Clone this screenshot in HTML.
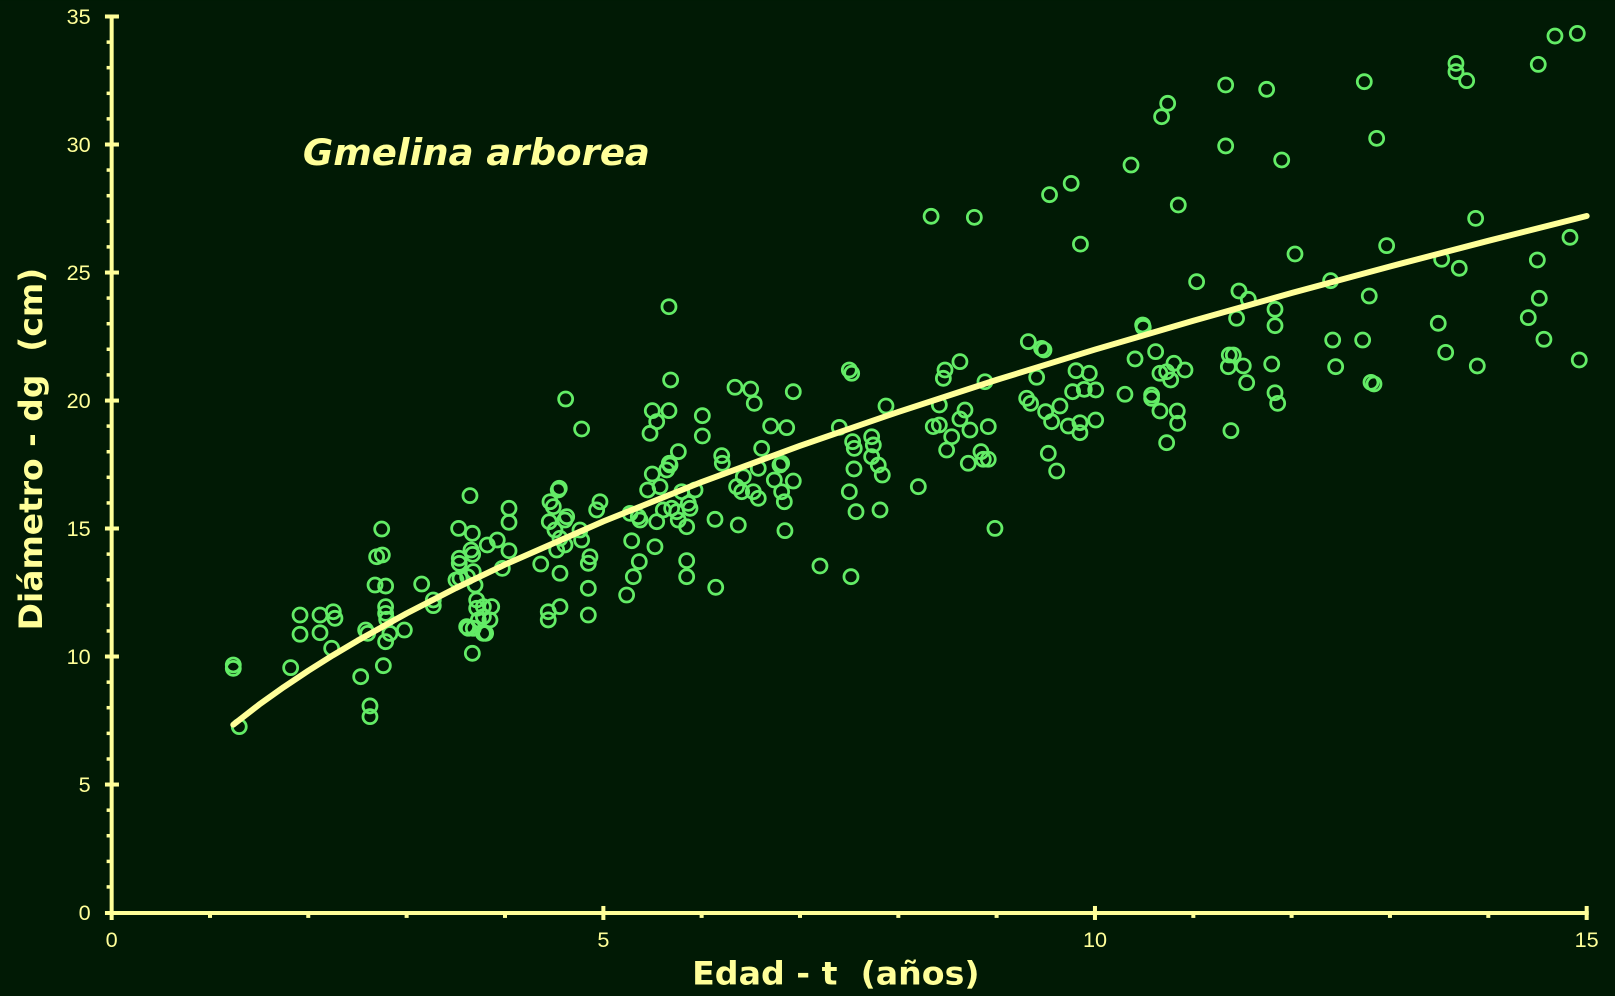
<!DOCTYPE html>
<html>
<head>
<meta charset="utf-8">
<style>
html,body{margin:0;padding:0;background:#011a05;}
svg{display:block;}
</style>
</head>
<body>
<svg width="1615" height="996" viewBox="0 0 1568 967" xmlns="http://www.w3.org/2000/svg">
<rect x="0" y="0" width="1568" height="967" fill="#011a05"/>

<!-- axes -->
<g stroke="#ffff99" stroke-linecap="butt">
  <line x1="108.4" y1="16" x2="108.4" y2="893.2" stroke-width="3.9"/>
  <line x1="101.9" y1="886.4" x2="1542.5" y2="886.4" stroke-width="3.9"/>
  <g stroke-width="3.9">
    <line x1="101.9" y1="16" x2="115.5" y2="16"/>
    <line x1="101.9" y1="140.3" x2="115.5" y2="140.3"/>
    <line x1="101.9" y1="264.6" x2="115.5" y2="264.6"/>
    <line x1="101.9" y1="388.9" x2="115.5" y2="388.9"/>
    <line x1="101.9" y1="513.1" x2="115.5" y2="513.1"/>
    <line x1="101.9" y1="637.4" x2="115.5" y2="637.4"/>
    <line x1="101.9" y1="761.7" x2="115.5" y2="761.7"/>
  </g>
  <g stroke-width="3.4">
    <line x1="103.5" y1="40.9" x2="108.4" y2="40.9"/>
    <line x1="103.5" y1="65.7" x2="108.4" y2="65.7"/>
    <line x1="103.5" y1="90.6" x2="108.4" y2="90.6"/>
    <line x1="103.5" y1="115.4" x2="108.4" y2="115.4"/>
    <line x1="103.5" y1="165.1" x2="108.4" y2="165.1"/>
    <line x1="103.5" y1="190.0" x2="108.4" y2="190.0"/>
    <line x1="103.5" y1="214.9" x2="108.4" y2="214.9"/>
    <line x1="103.5" y1="239.7" x2="108.4" y2="239.7"/>
    <line x1="103.5" y1="289.4" x2="108.4" y2="289.4"/>
    <line x1="103.5" y1="314.3" x2="108.4" y2="314.3"/>
    <line x1="103.5" y1="339.1" x2="108.4" y2="339.1"/>
    <line x1="103.5" y1="364.0" x2="108.4" y2="364.0"/>
    <line x1="103.5" y1="413.7" x2="108.4" y2="413.7"/>
    <line x1="103.5" y1="438.6" x2="108.4" y2="438.6"/>
    <line x1="103.5" y1="463.4" x2="108.4" y2="463.4"/>
    <line x1="103.5" y1="488.3" x2="108.4" y2="488.3"/>
    <line x1="103.5" y1="538.0" x2="108.4" y2="538.0"/>
    <line x1="103.5" y1="562.9" x2="108.4" y2="562.9"/>
    <line x1="103.5" y1="587.7" x2="108.4" y2="587.7"/>
    <line x1="103.5" y1="612.6" x2="108.4" y2="612.6"/>
    <line x1="103.5" y1="662.3" x2="108.4" y2="662.3"/>
    <line x1="103.5" y1="687.1" x2="108.4" y2="687.1"/>
    <line x1="103.5" y1="712.0" x2="108.4" y2="712.0"/>
    <line x1="103.5" y1="736.9" x2="108.4" y2="736.9"/>
    <line x1="103.5" y1="786.6" x2="108.4" y2="786.6"/>
    <line x1="103.5" y1="811.4" x2="108.4" y2="811.4"/>
    <line x1="103.5" y1="836.3" x2="108.4" y2="836.3"/>
    <line x1="103.5" y1="861.1" x2="108.4" y2="861.1"/>
  </g>
  <g stroke-width="3.9">
    <line x1="585.8" y1="879.6" x2="585.8" y2="893.2"/>
    <line x1="1063.1" y1="879.6" x2="1063.1" y2="893.2"/>
    <line x1="1540.5" y1="879.6" x2="1540.5" y2="893.2"/>
  </g>
  <g stroke-width="3.9">
    <line x1="203.9" y1="886.4" x2="203.9" y2="891.2"/>
    <line x1="299.3" y1="886.4" x2="299.3" y2="891.2"/>
    <line x1="394.8" y1="886.4" x2="394.8" y2="891.2"/>
    <line x1="490.3" y1="886.4" x2="490.3" y2="891.2"/>
    <line x1="681.2" y1="886.4" x2="681.2" y2="891.2"/>
    <line x1="776.7" y1="886.4" x2="776.7" y2="891.2"/>
    <line x1="872.2" y1="886.4" x2="872.2" y2="891.2"/>
    <line x1="967.6" y1="886.4" x2="967.6" y2="891.2"/>
    <line x1="1158.6" y1="886.4" x2="1158.6" y2="891.2"/>
    <line x1="1254.0" y1="886.4" x2="1254.0" y2="891.2"/>
    <line x1="1349.5" y1="886.4" x2="1349.5" y2="891.2"/>
    <line x1="1445.0" y1="886.4" x2="1445.0" y2="891.2"/>
  </g>
</g>

<!-- tick labels -->
<g fill="#ffff99" font-family="'Liberation Sans', 'DejaVu Sans', sans-serif" font-size="21">
  <g text-anchor="end">
    <text x="88" y="23.4">35</text>
    <text x="88" y="147.7">30</text>
    <text x="88" y="272.0">25</text>
    <text x="88" y="396.3">20</text>
    <text x="88" y="520.5">15</text>
    <text x="88" y="644.8">10</text>
    <text x="88" y="769.1">5</text>
    <text x="88" y="893.4">0</text>
  </g>
  <g text-anchor="middle">
    <text x="108.4" y="919.5">0</text>
    <text x="585.8" y="919.5">5</text>
    <text x="1063.1" y="919.5">10</text>
    <text x="1540.5" y="919.5">15</text>
  </g>
</g>

<!-- axis titles -->
<text x="672" y="956" fill="#ffff99" font-family="'DejaVu Sans', 'Liberation Sans', sans-serif" font-weight="bold" font-size="31" textLength="279" lengthAdjust="spacingAndGlyphs">Edad - t &#160;(años)</text>
<text transform="translate(41,612) rotate(-90)" x="0" y="0" fill="#ffff99" font-family="'DejaVu Sans', 'Liberation Sans', sans-serif" font-weight="bold" font-size="31" textLength="352" lengthAdjust="spacingAndGlyphs">Diámetro - dg &#160;(cm)</text>
<text x="294" y="160" fill="#ffff99" font-family="'DejaVu Sans', 'Liberation Sans', sans-serif" font-weight="bold" font-style="italic" font-size="35" textLength="337" lengthAdjust="spacingAndGlyphs">Gmelina arborea</text>

<!-- data points -->
<g fill="none" stroke="#63ec66" stroke-width="2.7">
<circle cx="226.5" cy="645.6" r="6.8"/><circle cx="226.5" cy="648.9" r="6.8"/><circle cx="232.3" cy="705.5" r="6.8"/><circle cx="282.2" cy="648.2" r="6.8"/>
<circle cx="291.3" cy="597.1" r="6.8"/><circle cx="291.3" cy="615.8" r="6.8"/><circle cx="310.7" cy="597.1" r="6.8"/><circle cx="310.7" cy="614.3" r="6.8"/>
<circle cx="323.6" cy="593.9" r="6.8"/><circle cx="325.2" cy="600.3" r="6.8"/><circle cx="322" cy="629.4" r="6.8"/><circle cx="350.2" cy="657" r="6.8"/>
<circle cx="355" cy="611.7" r="6.8"/><circle cx="357" cy="614.9" r="6.8"/><circle cx="359.2" cy="685.4" r="6.8"/><circle cx="359.2" cy="695.8" r="6.8"/>
<circle cx="370.6" cy="513.6" r="6.8"/><circle cx="365.7" cy="540.5" r="6.8"/><circle cx="371.2" cy="538.8" r="6.8"/><circle cx="364.1" cy="568" r="6.8"/>
<circle cx="374.4" cy="569" r="6.8"/><circle cx="374.4" cy="589" r="6.8"/><circle cx="374.4" cy="595.5" r="6.8"/><circle cx="375.4" cy="601.3" r="6.8"/>
<circle cx="378.6" cy="615" r="6.8"/><circle cx="374.4" cy="623" r="6.8"/><circle cx="372.2" cy="646.3" r="6.8"/><circle cx="392.6" cy="611.7" r="6.8"/>
<circle cx="409.4" cy="567" r="6.8"/><circle cx="420.7" cy="582.5" r="6.8"/><circle cx="420.7" cy="588" r="6.8"/><circle cx="445.3" cy="513" r="6.8"/>
<circle cx="456.3" cy="481.2" r="6.8"/><circle cx="445.9" cy="542" r="6.8"/><circle cx="445.9" cy="547" r="6.8"/><circle cx="446.6" cy="561.5" r="6.8"/>
<circle cx="442.7" cy="563.1" r="6.8"/><circle cx="458.6" cy="517.8" r="6.8"/><circle cx="457.3" cy="534" r="6.8"/><circle cx="458.9" cy="538.2" r="6.8"/>
<circle cx="459.5" cy="555" r="6.8"/><circle cx="461.2" cy="568" r="6.8"/><circle cx="454" cy="560" r="6.8"/><circle cx="462.8" cy="582.5" r="6.8"/>
<circle cx="462.8" cy="590.6" r="6.8"/><circle cx="469.3" cy="589" r="6.8"/><circle cx="477.4" cy="589" r="6.8"/><circle cx="469.3" cy="598.7" r="6.8"/>
<circle cx="475.7" cy="601.9" r="6.8"/><circle cx="464.4" cy="601.9" r="6.8"/><circle cx="453.1" cy="608.4" r="6.8"/><circle cx="454.7" cy="610" r="6.8"/>
<circle cx="459.5" cy="610" r="6.8"/><circle cx="469.3" cy="614.9" r="6.8"/><circle cx="471.5" cy="614.9" r="6.8"/><circle cx="458.6" cy="634.3" r="6.8"/>
<circle cx="473.1" cy="529.1" r="6.8"/><circle cx="482.8" cy="524.3" r="6.8"/><circle cx="494.2" cy="493.5" r="6.8"/><circle cx="494.2" cy="507.1" r="6.8"/>
<circle cx="494.2" cy="534.7" r="6.8"/><circle cx="487.7" cy="551.8" r="6.8"/><circle cx="525" cy="547.6" r="6.8"/><circle cx="532.3" cy="593.9" r="6.8"/>
<circle cx="532.3" cy="601.9" r="6.8"/><circle cx="543.7" cy="589" r="6.8"/><circle cx="543.7" cy="556.6" r="6.8"/><circle cx="571.2" cy="597.1" r="6.8"/>
<circle cx="543" cy="474" r="6.8"/><circle cx="542" cy="475.7" r="6.8"/><circle cx="534" cy="487.1" r="6.8"/><circle cx="537.2" cy="491.9" r="6.8"/>
<circle cx="533.3" cy="506.5" r="6.8"/><circle cx="550.2" cy="501.6" r="6.8"/><circle cx="548.5" cy="504.9" r="6.8"/><circle cx="538.8" cy="514.6" r="6.8"/>
<circle cx="543.7" cy="522.6" r="6.8"/><circle cx="548.5" cy="529.1" r="6.8"/><circle cx="540.5" cy="534" r="6.8"/><circle cx="563.1" cy="514.6" r="6.8"/>
<circle cx="564.7" cy="524.3" r="6.8"/><circle cx="582.5" cy="487.1" r="6.8"/><circle cx="579.3" cy="495.1" r="6.8"/><circle cx="572.8" cy="540.5" r="6.8"/>
<circle cx="571.2" cy="546.9" r="6.8"/><circle cx="571.2" cy="571.2" r="6.8"/><circle cx="608.4" cy="577.7" r="6.8"/>
<circle cx="649.5" cy="297.8" r="6.8"/><circle cx="549.2" cy="387.4" r="6.8"/><circle cx="564.7" cy="416.5" r="6.8"/><circle cx="651.1" cy="368.9" r="6.8"/>
<circle cx="633.3" cy="398.7" r="6.8"/><circle cx="649.5" cy="398.7" r="6.8"/><circle cx="637.6" cy="409.4" r="6.8"/><circle cx="631.1" cy="420.7" r="6.8"/>
<circle cx="681.9" cy="403.6" r="6.8"/><circle cx="681.9" cy="423.3" r="6.8"/><circle cx="713.6" cy="376" r="6.8"/><circle cx="728.8" cy="377.7" r="6.8"/>
<circle cx="732.3" cy="391.6" r="6.8"/><circle cx="770.2" cy="380.3" r="6.8"/><circle cx="824.6" cy="359.2" r="6.8"/><circle cx="826.9" cy="362.4" r="6.8"/>
<circle cx="860.2" cy="394.2" r="6.8"/><circle cx="814.9" cy="414.9" r="6.8"/><circle cx="748.2" cy="413.6" r="6.8"/><circle cx="763.8" cy="415.2" r="6.8"/>
<circle cx="739.5" cy="435.3" r="6.8"/><circle cx="658.6" cy="438.5" r="6.8"/><circle cx="649.8" cy="449.8" r="6.8"/><circle cx="647.3" cy="456.3" r="6.8"/>
<circle cx="633.3" cy="460.2" r="6.8"/><circle cx="628.8" cy="475.7" r="6.8"/><circle cx="640.8" cy="472.5" r="6.8"/><circle cx="700.7" cy="442.4" r="6.8"/>
<circle cx="701.3" cy="449.8" r="6.8"/><circle cx="736.2" cy="454.7" r="6.8"/><circle cx="721.7" cy="462.8" r="6.8"/><circle cx="715.2" cy="472.5" r="6.8"/>
<circle cx="720.1" cy="477.4" r="6.8"/><circle cx="731.4" cy="477.4" r="6.8"/><circle cx="736.2" cy="483.8" r="6.8"/><circle cx="758.9" cy="449.8" r="6.8"/>
<circle cx="757.3" cy="451.5" r="6.8"/><circle cx="751.8" cy="466" r="6.8"/><circle cx="770.2" cy="467" r="6.8"/><circle cx="758.9" cy="477.4" r="6.8"/>
<circle cx="761.5" cy="487.1" r="6.8"/><circle cx="694.2" cy="504.2" r="6.8"/><circle cx="716.8" cy="509.7" r="6.8"/><circle cx="762.1" cy="515.2" r="6.8"/>
<circle cx="796.1" cy="549.5" r="6.8"/><circle cx="826.2" cy="559.9" r="6.8"/><circle cx="666.7" cy="544.3" r="6.8"/><circle cx="666.7" cy="559.9" r="6.8"/>
<circle cx="694.9" cy="570.2" r="6.8"/><circle cx="827.8" cy="428.8" r="6.8"/><circle cx="829.4" cy="435.3" r="6.8"/><circle cx="846.3" cy="424" r="6.8"/>
<circle cx="847.9" cy="432" r="6.8"/><circle cx="846.3" cy="443.4" r="6.8"/><circle cx="852.7" cy="451.5" r="6.8"/><circle cx="856.6" cy="461.2" r="6.8"/>
<circle cx="829.1" cy="455.3" r="6.8"/><circle cx="824.6" cy="477.4" r="6.8"/><circle cx="831.1" cy="496.8" r="6.8"/><circle cx="854.4" cy="495.1" r="6.8"/>
<circle cx="891.6" cy="472.5" r="6.8"/><circle cx="611.7" cy="498.4" r="6.8"/><circle cx="619.7" cy="501.6" r="6.8"/><circle cx="621.4" cy="504.9" r="6.8"/>
<circle cx="613.3" cy="525" r="6.8"/><circle cx="620.7" cy="545.3" r="6.8"/><circle cx="614.9" cy="559.9" r="6.8"/><circle cx="635.9" cy="530.8" r="6.8"/>
<circle cx="637.6" cy="506.5" r="6.8"/><circle cx="644" cy="495.1" r="6.8"/><circle cx="652.1" cy="493.5" r="6.8"/><circle cx="657" cy="496.8" r="6.8"/>
<circle cx="658.5" cy="504.9" r="6.8"/><circle cx="668.3" cy="488.7" r="6.8"/><circle cx="669.9" cy="493.5" r="6.8"/><circle cx="666.7" cy="511.4" r="6.8"/>
<circle cx="674.8" cy="475.7" r="6.8"/><circle cx="661.9" cy="477.4" r="6.8"/><circle cx="650.5" cy="451.5" r="6.8"/>
<circle cx="998.4" cy="331.7" r="6.8"/><circle cx="1011.3" cy="338.2" r="6.8"/><circle cx="1013.6" cy="339.8" r="6.8"/><circle cx="932" cy="351.1" r="6.8"/>
<circle cx="917.5" cy="359.2" r="6.8"/><circle cx="915.9" cy="367.3" r="6.8"/><circle cx="956.3" cy="370.6" r="6.8"/><circle cx="1006.5" cy="366.3" r="6.8"/>
<circle cx="1044.7" cy="359.9" r="6.8"/><circle cx="1057.6" cy="362.4" r="6.8"/><circle cx="1041.4" cy="380.3" r="6.8"/><circle cx="1052.7" cy="378" r="6.8"/>
<circle cx="1063.8" cy="378.6" r="6.8"/><circle cx="1102" cy="348.5" r="6.8"/><circle cx="1109.4" cy="315.5" r="6.8"/><circle cx="1110" cy="317.8" r="6.8"/>
<circle cx="1122" cy="341.4" r="6.8"/><circle cx="1139.8" cy="352.7" r="6.8"/><circle cx="1150.5" cy="359.2" r="6.8"/><circle cx="1126.2" cy="362.4" r="6.8"/>
<circle cx="1132.7" cy="360.9" r="6.8"/><circle cx="1136.6" cy="368.9" r="6.8"/><circle cx="1092.2" cy="382.8" r="6.8"/><circle cx="1118.1" cy="383.5" r="6.8"/>
<circle cx="1118.1" cy="386.7" r="6.8"/><circle cx="1126.2" cy="399" r="6.8"/><circle cx="1143" cy="399" r="6.8"/><circle cx="1143.4" cy="411" r="6.8"/>
<circle cx="1132.7" cy="429.8" r="6.8"/><circle cx="1200.6" cy="309" r="6.8"/><circle cx="1193.5" cy="344.7" r="6.8"/><circle cx="1197.4" cy="344.7" r="6.8"/>
<circle cx="1192.6" cy="356" r="6.8"/><circle cx="1207.1" cy="355.3" r="6.8"/><circle cx="1210.4" cy="371.5" r="6.8"/><circle cx="1195.1" cy="418.1" r="6.8"/>
<circle cx="912" cy="393.2" r="6.8"/><circle cx="936.9" cy="398.1" r="6.8"/><circle cx="932" cy="406.8" r="6.8"/><circle cx="906.1" cy="414.2" r="6.8"/>
<circle cx="912" cy="412.6" r="6.8"/><circle cx="924" cy="424" r="6.8"/><circle cx="941.7" cy="417.5" r="6.8"/><circle cx="959.5" cy="414.2" r="6.8"/>
<circle cx="919.1" cy="436.9" r="6.8"/><circle cx="940.1" cy="449.8" r="6.8"/><circle cx="952.4" cy="438.5" r="6.8"/><circle cx="954.7" cy="445.9" r="6.8"/>
<circle cx="959.5" cy="445.9" r="6.8"/><circle cx="966" cy="513" r="6.8"/><circle cx="996.8" cy="386.7" r="6.8"/><circle cx="1000.6" cy="391.6" r="6.8"/>
<circle cx="1015.2" cy="399.7" r="6.8"/><circle cx="1029.1" cy="394.2" r="6.8"/><circle cx="1021" cy="409.4" r="6.8"/><circle cx="1037.2" cy="413.6" r="6.8"/>
<circle cx="1048.5" cy="410.4" r="6.8"/><circle cx="1048.5" cy="420.1" r="6.8"/><circle cx="1063.8" cy="407.8" r="6.8"/><circle cx="1017.8" cy="440.1" r="6.8"/>
<circle cx="1025.9" cy="457.3" r="6.8"/>
<circle cx="1133.7" cy="100.3" r="6.8"/><circle cx="1127.8" cy="113.3" r="6.8"/><circle cx="1190" cy="82.5" r="6.8"/><circle cx="1229.8" cy="86.7" r="6.8"/>
<circle cx="1324.6" cy="79.3" r="6.8"/><circle cx="1190" cy="141.7" r="6.8"/><circle cx="1244.4" cy="155.3" r="6.8"/><circle cx="1336.6" cy="134.3" r="6.8"/>
<circle cx="1098.1" cy="160.2" r="6.8"/><circle cx="1144" cy="199" r="6.8"/><circle cx="1257.3" cy="246.6" r="6.8"/><circle cx="1346.3" cy="238.5" r="6.8"/>
<circle cx="1161.8" cy="273.5" r="6.8"/><circle cx="1202.9" cy="282.5" r="6.8"/><circle cx="1212" cy="290.6" r="6.8"/><circle cx="1291.9" cy="272.5" r="6.8"/>
<circle cx="1329.4" cy="287.4" r="6.8"/><circle cx="1237.9" cy="300.3" r="6.8"/><circle cx="1237.9" cy="316.2" r="6.8"/><circle cx="1293.9" cy="330.1" r="6.8"/>
<circle cx="1323" cy="330.1" r="6.8"/><circle cx="1234.7" cy="353.4" r="6.8"/><circle cx="1237.9" cy="381.3" r="6.8"/><circle cx="1240.5" cy="391.6" r="6.8"/>
<circle cx="1296.8" cy="356" r="6.8"/><circle cx="1331.1" cy="371.2" r="6.8"/><circle cx="1334" cy="372.8" r="6.8"/>
<circle cx="1413.6" cy="61.5" r="6.8"/><circle cx="1413.6" cy="69.6" r="6.8"/><circle cx="1424" cy="78.3" r="6.8"/><circle cx="1509.7" cy="35" r="6.8"/>
<circle cx="1531.4" cy="32.4" r="6.8"/><circle cx="1493.5" cy="62.5" r="6.8"/><circle cx="1432.7" cy="212" r="6.8"/><circle cx="1399.7" cy="251.7" r="6.8"/>
<circle cx="1416.8" cy="260.5" r="6.8"/><circle cx="1524.3" cy="230.4" r="6.8"/><circle cx="1492.6" cy="252.4" r="6.8"/><circle cx="1494.5" cy="289.6" r="6.8"/>
<circle cx="1483.8" cy="308.4" r="6.8"/><circle cx="1499" cy="329.4" r="6.8"/><circle cx="1533.3" cy="349.5" r="6.8"/><circle cx="1396.4" cy="313.9" r="6.8"/>
<circle cx="1403.6" cy="342.1" r="6.8"/><circle cx="1434.3" cy="355.3" r="6.8"/>
<circle cx="904" cy="210" r="6.8"/><circle cx="946" cy="211" r="6.8"/><circle cx="1019" cy="189" r="6.8"/><circle cx="1040" cy="178" r="6.8"/>
<circle cx="1049" cy="237" r="6.8"/>
</g>

<!-- fitted curve -->
<polyline fill="none" stroke="#ffff99" stroke-width="5.8" stroke-linecap="round" stroke-linejoin="round"
 points="226.5,703.6 251.6,684.1 275.5,667.1 299.3,651.2 323.2,636.2 347.1,622.0 394.8,595.5 442.5,571.0 490.3,548.1 585.8,506.2 681.2,468.0 776.7,432.8 872.2,399.9 967.6,368.8 1063.1,339.4 1158.6,311.4 1254.0,284.5 1349.5,258.7 1445.0,233.8 1540.5,209.7"/>
</svg>
</body>
</html>
